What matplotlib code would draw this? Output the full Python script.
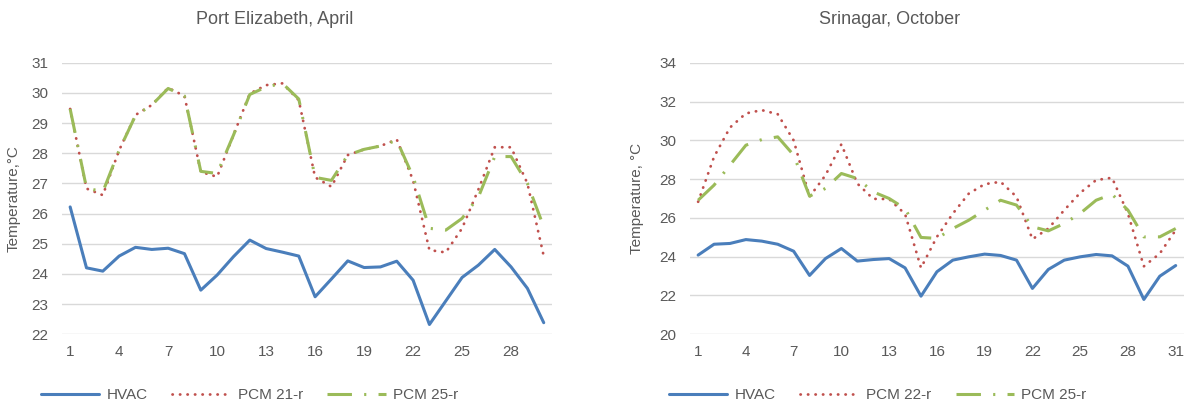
import numpy as np
import matplotlib.pyplot as plt

plt.rcParams['font.family'] = ['Liberation Sans', 'DejaVu Sans']

# Port Elizabeth, April (30 days)
pe_days = list(range(1, 31))
pe_hvac = [26.22, 24.2, 24.09, 24.59, 24.88, 24.81, 24.85, 24.67, 23.46, 23.96,
           24.57, 25.12, 24.84, 24.72, 24.59, 23.24, 23.83, 24.43, 24.21, 24.23,
           24.42, 23.79, 22.32, 23.1, 23.88, 24.29, 24.81, 24.23, 23.52, 22.38]
pe_pcm21 = [29.47, 26.83, 26.61, 28.1, 29.27, 29.6, 30.17, 29.9, 27.38, 27.22,
            28.6, 29.98, 30.26, 30.32, 29.76, 27.2, 26.89, 27.94, 28.13, 28.24,
            28.46, 27.1, 24.79, 24.71, 25.51, 26.8, 28.2, 28.2, 27.0, 24.59]
pe_pcm25 = [29.47, 26.85, 26.72, 28.1, 29.25, 29.6, 30.15, 29.9, 27.4, 27.33,
            28.6, 29.95, 30.2, 30.32, 29.8, 27.2, 27.1, 27.94, 28.13, 28.24,
            28.43, 27.22, 25.51, 25.45, 25.84, 26.55, 27.89, 27.89, 27.0, 25.56]

# Srinagar, October (31 days)
sr_days = list(range(1, 32))
sr_hvac = [24.08, 24.64, 24.68, 24.88, 24.8, 24.64, 24.28, 23.03, 23.9, 24.42,
           23.77, 23.85, 23.9, 23.42, 21.96, 23.22, 23.82, 23.99, 24.13, 24.06,
           23.82, 22.36, 23.34, 23.82, 23.99, 24.11, 24.04, 23.51, 21.79, 22.99, 23.54]
sr_pcm22 = [26.83, 29.15, 30.66, 31.39, 31.56, 31.35, 30.0, 27.09, 28.2, 29.8,
            27.77, 26.98, 26.97, 26.2, 23.42, 25.02, 26.22, 27.25, 27.74, 27.86,
            27.09, 24.9, 25.45, 26.4, 27.29, 27.95, 28.07, 26.22, 23.5, 24.16, 25.37]
sr_pcm25 = [26.91, 27.69, 28.72, 29.75, 30.04, 30.18, 29.24, 27.12, 27.52, 28.29,
            28.03, 27.34, 27.0, 26.48, 24.99, 24.94, 25.45, 25.88, 26.4, 26.91,
            26.66, 25.54, 25.33, 25.71, 26.23, 26.91, 27.22, 26.4, 25.02, 25.02, 25.45]

C_BLUE = '#4A7EBB'
C_RED = '#C0504D'
C_GREEN = '#9BBB59'
C_TEXT = '#595959'
C_GRID = '#D9D9D9'


def draw_panel(ax, days, hvac, pcm_a, pcm_b, label_a, ylim, ystep, ylabel, ylab_x, leg_x):
    ax.plot(days, hvac, color=C_BLUE, lw=2.2, label='HVAC', solid_capstyle='round')
    ax.plot(days, pcm_a, color=C_RED, lw=2.0, linestyle=(0, (0.1, 2.6)),
            dash_capstyle='round', label=label_a)
    ax.plot(days, pcm_b, color=C_GREEN, lw=2.2, linestyle=(0, (8, 4, 0.7, 4)),
            label='PCM 25-r')
    ax.set_xlim(0.5, len(days) + 0.5)
    ax.set_ylim(*ylim)
    ax.set_yticks(np.arange(ylim[0], ylim[1] + 0.1, ystep))
    ax.set_xticks(days[::3])
    ax.grid(axis='y', color=C_GRID, lw=1.0)
    ax.set_axisbelow(True)
    for s in ax.spines.values():
        s.set_visible(False)
    ax.tick_params(length=0, labelsize=11, colors=C_TEXT)
    ax.tick_params(axis='y', pad=10)
    ax.tick_params(axis='x', pad=8)
    ax.set_ylabel(ylabel, fontsize=11, color=C_TEXT)
    ax.yaxis.set_label_coords(ylab_x, 0.5)
    ax.legend(loc='center', bbox_to_anchor=(leg_x, -0.225), ncol=3,
              frameon=False, fontsize=11, labelcolor=C_TEXT, handlelength=3.8,
              columnspacing=1.6, handletextpad=0.5)


fig = plt.figure(figsize=(11.92, 4.08), dpi=100)
ax1 = fig.add_axes([0.052, 0.181, 0.411, 0.665])
ax2 = fig.add_axes([0.579, 0.181, 0.414, 0.665])

draw_panel(ax1, pe_days, pe_hvac, pe_pcm21, pe_pcm25, 'PCM 21-r', (22, 31), 1,
           'Temperature,°C', -0.084, 0.383)
draw_panel(ax2, sr_days, sr_hvac, sr_pcm22, sr_pcm25, 'PCM 22-r', (20, 34), 2,
           'Temperature, °C', -0.093, 0.38)

fig.text(275 / 1192, 1 - 20 / 408, 'Port Elizabeth, April', ha='center', va='center',
         fontsize=13, color=C_TEXT)
fig.text(890 / 1192, 1 - 20 / 408, 'Srinagar, October', ha='center', va='center',
         fontsize=13, color=C_TEXT)

fig.savefig('out.png', dpi=100)
